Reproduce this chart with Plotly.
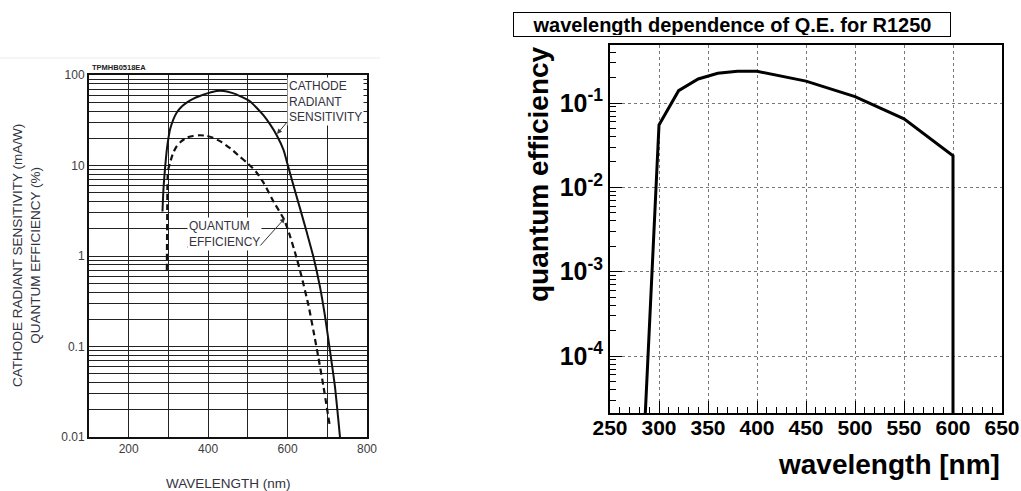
import plotly.graph_objects as go

W, H = 1021, 491

# ---------------- data: left (datasheet) ----------------
cathode_nm = [285, 286, 287.5, 290, 292, 296, 300, 304, 312, 321, 333, 346, 362, 379, 400, 421, 440,
              462, 480, 496, 506, 522, 539, 556, 573, 590, 600, 614, 631, 648, 665, 681, 694, 706, 719, 732]
cathode_sens = [3.1, 4.0, 5.5, 7.8, 9.9, 15, 20, 25, 32, 38.5, 44.5, 49.5, 54.5, 58.6, 63, 66.5, 66.5,
                63, 58.5, 54, 51, 43.5, 36, 28.5, 21.5, 14.8, 10.3, 6.2, 3.4, 1.85, 0.98, 0.47, 0.22, 0.095, 0.037, 0.01]

qe_nm = [296, 296.5, 297, 297.5, 299, 304, 312, 321, 333, 346, 362, 379, 395, 412, 435, 458, 480, 498,
         520, 539, 566, 591, 604, 616, 624, 636, 653, 665, 678, 690, 706]
qe_pct = [0.7, 1.5, 3.0, 6.0, 8.8, 10.7, 13.8, 16.4, 18.6, 20.3, 21.2, 21.6, 21.3, 20.3, 18.0, 15.2, 12.5, 10.7,
          8.6, 6.5, 3.9, 2.54, 1.78, 1.2, 0.91, 0.575, 0.28, 0.15, 0.074, 0.037, 0.0135]

left_x_ticks = [200, 400, 600, 800]
left_x_minor = [100, 300, 500, 700]
left_decades = [0.01, 0.1, 1, 10, 100]
left_decade_labels = ["0.01", "0.1", "1", "10", "100"]

# ---------------- data: right (ROOT graph) ----------------
r1250_nm = [280, 300, 320, 340, 360, 380, 400, 450, 500, 550, 600, 600]
r1250_qe = [7e-7, 0.055, 0.14, 0.193, 0.225, 0.238, 0.238, 0.182, 0.119, 0.065, 0.0237, 1e-7]

right_x_ticks = [250, 300, 350, 400, 450, 500, 550, 600, 650]
right_y_ticks = [1e-4, 1e-3, 1e-2, 1e-1]
right_y_labels = ["10<sup>-4</sup>", "10<sup>-3</sup>", "10<sup>-2</sup>", "10<sup>-1</sup>"]


def PX(x):
    return x / W


def PY(y):
    return 1 - y / H


# minor log grid values for left chart (2..9 of each decade)
left_minor_y = [round(k * d, 6) for d in [0.01, 0.1, 1, 10] for k in range(2, 10)]

right_minor_y = []
for e in [1e-5, 1e-4, 1e-3, 1e-2, 1e-1]:
    for k in range(2, 10):
        v = k * e
        if 2.1e-5 <= v <= 0.49:
            right_minor_y.append(v)
right_minor_x = [v for v in range(250, 651, 10) if v % 50 != 0]

fig = go.Figure()

fig.add_trace(go.Scatter(x=cathode_nm, y=cathode_sens, mode="lines",
                         line=dict(color="#111", width=2, shape="spline", smoothing=0.6),
                         xaxis="x", yaxis="y", showlegend=False))
fig.add_trace(go.Scatter(x=qe_nm, y=qe_pct, mode="lines",
                         line=dict(color="#111", width=2.2, dash="6px,4px", shape="spline", smoothing=0.6),
                         xaxis="x", yaxis="y", showlegend=False))
fig.add_trace(go.Scatter(x=r1250_nm, y=r1250_qe, mode="lines",
                         line=dict(color="black", width=3),
                         xaxis="x2", yaxis="y2", showlegend=False))

gray = "#3c3c3c"
gridc = "#222"
fig.update_layout(
    width=W, height=H, autosize=False,
    margin=dict(l=0, r=0, t=0, b=0),
    paper_bgcolor="white", plot_bgcolor="white",
    font=dict(family="Liberation Sans, Arial, sans-serif", color="black"),
    xaxis=dict(domain=[PX(89), PX(367)], range=[100, 800], tickmode="array",
               tickvals=left_x_ticks, showgrid=True,
               minor=dict(tickmode="array", tickvals=left_x_minor, showgrid=True,
                          gridcolor=gridc, gridwidth=1, ticks=""),
               gridcolor=gridc, gridwidth=1, showline=True, linecolor="#111", linewidth=2,
               mirror=True, ticks="", zeroline=False, automargin=False,
               tickfont=dict(size=12, color=gray), anchor="y"),
    yaxis=dict(domain=[PY(437), PY(75)], type="log", range=[-2, 2], tickmode="array",
               tickvals=left_decades, ticktext=left_decade_labels, showgrid=True,
               minor=dict(tickmode="array", tickvals=left_minor_y, showgrid=True,
                          gridcolor=gridc, gridwidth=1, ticks=""),
               gridcolor=gridc, gridwidth=1, showline=True, linecolor="#111", linewidth=2,
               mirror=True, ticks="", zeroline=False, automargin=False,
               tickfont=dict(size=12, color=gray), anchor="x"),
    xaxis2=dict(domain=[PX(610), PX(1002)], range=[250, 650], tickmode="array",
                tickvals=right_x_ticks, ticks="inside", ticklen=12, tickwidth=1, tickcolor="black",
                minor=dict(tickmode="array", tickvals=right_minor_x, ticks="inside", ticklen=6,
                           tickcolor="black", showgrid=False),
                showgrid=True, griddash="dot", gridcolor="#777", gridwidth=1,
                showline=True, linecolor="black", linewidth=2, mirror=True, zeroline=False,
                automargin=False, ticklabelstandoff=-5,
                tickfont=dict(size=21, weight="bold", color="black"), anchor="y2"),
    yaxis2=dict(domain=[PY(413), PY(45)], type="log", range=[-4.676, -0.312], tickmode="array",
                tickvals=right_y_ticks, ticktext=right_y_labels,
                ticks="inside", ticklen=12, tickwidth=1, tickcolor="black",
                minor=dict(tickmode="array", tickvals=right_minor_y, ticks="inside", ticklen=6,
                           tickcolor="black", showgrid=False),
                showgrid=True, griddash="dot", gridcolor="#777", gridwidth=1,
                showline=True, linecolor="black", linewidth=2, mirror=True, zeroline=False,
                automargin=False,
                tickfont=dict(size=25, weight="bold", color="black"), anchor="x2"),
)

txt = "#333340"
annotations = [
    dict(text="TPMHB0518EA", x=PX(90), y=PY(67), xanchor="left", yanchor="middle",
         font=dict(size=7.5, color="#222", weight="bold")),
    dict(text="CATHODE RADIANT SENSITIVITY (mA/W)<br>QUANTUM EFFICIENCY (%)", textangle=-90,
         x=PX(27), y=PY(256), xanchor="center", yanchor="middle",
         font=dict(size=13.5, color=txt)),
    dict(text="WAVELENGTH (nm)", x=PX(228), y=PY(483), xanchor="center", yanchor="middle",
         font=dict(size=13.5, color=txt)),
    dict(text="CATHODE<br>RADIANT<br>SENSITIVITY", align="left", x=PX(287), y=PY(101),
         xanchor="left", yanchor="middle", bgcolor="white", borderpad=1,
         font=dict(size=12, color=txt)),
    dict(text="QUANTUM<br>EFFICIENCY", align="left", x=PX(187), y=PY(234),
         xanchor="left", yanchor="middle", bgcolor="white", borderpad=1,
         font=dict(size=12, color=txt)),
    # leader arrows
    dict(text="", x=PX(277), y=PY(134), ax=11, ay=-13,
         showarrow=True, arrowhead=2, arrowsize=1, arrowwidth=1, arrowcolor="#333"),
    dict(text="", x=PX(285), y=PY(218), ax=-26, ay=29,
         showarrow=True, arrowhead=2, arrowsize=1, arrowwidth=1, arrowcolor="#333"),
    # right (ROOT) texts
    dict(text="wavelength dependence of Q.E. for R1250", x=PX(732), y=PY(24.2),
         xanchor="center", yanchor="middle", width=434, height=21, bordercolor="black",
         borderwidth=1, borderpad=1, bgcolor="white",
         font=dict(size=20, weight="bold", color="black")),
    dict(text="quantum efficiency", textangle=-90, x=PX(538), y=PY(44), xanchor="center",
         yanchor="top", font=dict(size=28, weight="bold", color="black")),
    dict(text="wavelength [nm]", x=PX(1002), y=PY(464), xanchor="right", yanchor="middle",
         font=dict(size=28, weight="bold", color="black")),
]
for a in annotations:
    a.setdefault("xref", "paper")
    a.setdefault("yref", "paper")
    a.setdefault("showarrow", False)
fig.update_layout(annotations=annotations)

shapes = [
    dict(type="line", xref="paper", yref="paper", x0=PX(0), x1=PX(380), y0=PY(58), y1=PY(58),
         line=dict(color="#ececec", width=1)),
    dict(type="line", xref="paper", yref="paper", x0=PX(287), x1=PX(361), y0=PY(121), y1=PY(121),
         line=dict(color="#333", width=1)),
    dict(type="line", xref="paper", yref="paper", x0=PX(187), x1=PX(259), y0=PY(247), y1=PY(247),
         line=dict(color="#333", width=1)),
]
fig.update_layout(shapes=shapes)

fig.write_html("out.html")
